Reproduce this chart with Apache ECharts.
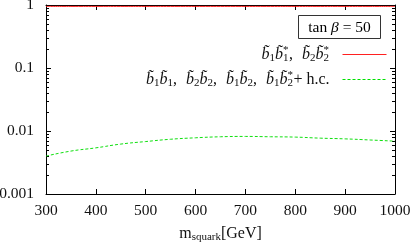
<!DOCTYPE html>
<html><head><meta charset="utf-8">
<script src="https://cdn.jsdelivr.net/npm/echarts@6/dist/echarts.min.js"></script>
<style>html,body{margin:0;padding:0;background:#fff}#c{width:415px;height:244px}</style>
</head><body><div id="c"></div>
<script>
const xValues = [300, 350, 400, 450, 500, 550, 600, 650, 700, 750, 800, 850, 900, 950, 1000];
const redValues = [0.95, 0.95, 0.95, 0.95, 0.95, 0.95, 0.95, 0.95, 0.95, 0.95, 0.95, 0.95, 0.95, 0.95, 0.95];
const greenValues = [0.0040, 0.0048, 0.0054, 0.0062, 0.0068, 0.0074, 0.0078, 0.0081, 0.0082, 0.0081, 0.0080, 0.0077, 0.0075, 0.0072, 0.0069];
const yTickLabels = {0.001: '0.001', 0.01: '0.01', 0.1: '0.1', 1: '1'};
const minorTickValues = [0.002, 0.003, 0.004, 0.005, 0.006, 0.007, 0.008, 0.009,
  0.02, 0.03, 0.04, 0.05, 0.06, 0.07, 0.08, 0.09,
  0.2, 0.3, 0.4, 0.5, 0.6, 0.7, 0.8, 0.9];
const redName = 'b1b1*, b2b2*';
const greenName = 'b1b1, b2b2, b1b2, b1b2* + h.c.';

const FF = 'Liberation Serif';
const B = '{i|b\u0303}';
function bb(a, b, star) {
  return B + '{s|' + a + '}' + B + (star ? '{sw|' + b + '}{p|*}' : '{s|' + b + '}');
}
const legendText = {};
legendText[redName] = bb(1, 1, true) + '{c|,}' + bb(2, 2, true) + '{g| }';
legendText[greenName] = bb(1, 1) + '{c|,}' + bb(2, 2) + '{c|,}' + bb(1, 2) + '{c|,}' + bb(1, 2, true) + '{n|+ h.c.}{g| }';

const TC = '#111';
const rich = {
  i: {fontFamily: FF, fontSize: 16, fontStyle: 'italic', lineHeight: 18, color: TC, align: 'left'},
  n: {fontFamily: FF, fontSize: 16, lineHeight: 18, color: TC, align: 'left'},
  c: {fontFamily: FF, fontSize: 16, lineHeight: 18, width: 13, color: TC, align: 'left'},
  s: {fontFamily: FF, fontSize: 11, lineHeight: 18, padding: [8, 0, 0, 0], color: TC, align: 'left'},
  sw: {fontFamily: FF, fontSize: 11, lineHeight: 18, padding: [8, 0, 0, 0], width: 0, color: TC, align: 'left'},
  p: {fontFamily: FF, fontSize: 11, lineHeight: 18, padding: [0, 0, 8, 0], width: 6, color: TC, align: 'left'},
  g: {fontFamily: FF, fontSize: 16, width: 8, lineHeight: 18, align: 'left'}
};

const chart = echarts.init(document.getElementById('c'), null, {renderer: 'canvas'});
const axisLineStyle = {color: '#000', width: 1};
chart.setOption({
  animation: false,
  backgroundColor: '#fff',
  grid: {left: 46, right: 20, top: 5, bottom: 50, containLabel: false, outerBoundsMode: 'none'},
  xAxis: [{
    type: 'value', min: 300, max: 1000, interval: 100, position: 'bottom',
    axisLine: {show: true, lineStyle: axisLineStyle},
    axisTick: {show: true, inside: true, length: 5, lineStyle: axisLineStyle},
    axisLabel: {fontFamily: FF, fontSize: 15.5, color: TC, margin: 9, formatter: v => String(v)},
    splitLine: {show: false},
    name: 'm{sub|squark}[GeV]', nameLocation: 'middle', nameGap: 31,
    nameTextStyle: {fontFamily: FF, fontSize: 16, color: TC, rich: {
      sub: {fontFamily: FF, fontSize: 11, padding: [7, 0, 0, 0], color: TC}
    }}
  }, {
    type: 'value', min: 300, max: 1000, interval: 100, position: 'top',
    axisLine: {show: true, lineStyle: axisLineStyle},
    axisTick: {show: true, inside: true, length: 5, lineStyle: axisLineStyle},
    axisLabel: {show: false}, splitLine: {show: false}
  }],
  yAxis: [{
    type: 'log', min: 0.001, max: 1, logBase: 10, position: 'left',
    axisLine: {show: true, lineStyle: axisLineStyle},
    axisTick: {show: true, inside: true, length: 5, lineStyle: axisLineStyle},
    minorTick: {show: false},
    axisLabel: {fontFamily: FF, fontSize: 15.5, color: TC, margin: 12,
      formatter: v => { const k = Object.keys(yTickLabels).find(t => Math.abs(Math.log10(+t) - Math.log10(v)) < 1e-6); return k ? yTickLabels[k] : ''; }},
    splitLine: {show: false}
  }, {
    type: 'log', min: 0.001, max: 1, logBase: 10, position: 'right',
    axisLine: {show: true, lineStyle: axisLineStyle},
    axisTick: {show: true, inside: true, length: 5, lineStyle: axisLineStyle},
    minorTick: {show: false},
    axisLabel: {show: false}, splitLine: {show: false}
  }],
  legend: {
    orient: 'vertical', right: 23, top: 40, align: 'right',
    itemWidth: 44, itemHeight: 18, itemGap: 6,
    data: [
      {name: redName, itemStyle: {opacity: 0}, lineStyle: {color: '#ff2020', width: 1, type: 'solid'}},
      {name: greenName, itemStyle: {opacity: 0}, lineStyle: {color: '#00e000', width: 1, type: [3, 2]}}
    ],
    formatter: name => legendText[name],
    textStyle: {rich: rich, fontFamily: FF, fontSize: 16, color: TC},
    selectedMode: false
  },
  graphic: [{
    type: 'group', left: 298, top: 15,
    children: [
      {type: 'rect', shape: {x: 0, y: 0, width: 82, height: 23}, style: {fill: '#fff', stroke: '#333', lineWidth: 1}},
      {type: 'text', x: 41, y: 12, style: {
        text: '{n|tan }{i|\u03B2}{n| = 50}', align: 'center', verticalAlign: 'middle',
        rich: {n: {fontFamily: FF, fontSize: 15.5, color: TC}, i: {fontFamily: FF, fontSize: 15.5, fontStyle: 'italic', color: TC}}
      }}
    ]
  }],
  series: [{
    name: redName, type: 'line', xAxisIndex: 0, yAxisIndex: 0,
    data: xValues.map((x, k) => [x, redValues[k]]),
    showSymbol: false, symbol: 'none', smooth: true,
    lineStyle: {color: '#ff2020', width: 1}, itemStyle: {color: '#ff2020'}
  }, {
    name: greenName, type: 'line', xAxisIndex: 0, yAxisIndex: 0,
    data: xValues.map((x, k) => [x, greenValues[k]]),
    showSymbol: false, symbol: 'none', smooth: true,
    lineStyle: {color: '#10e010', width: 1, type: [3, 2]}, itemStyle: {color: '#10e010'}
  }, {
    name: 'minorTicks', type: 'custom', xAxisIndex: 0, yAxisIndex: 0, silent: true, clip: false,
    data: minorTickValues.map(v => [300, v]),
    renderItem: (params, api) => {
      const v = api.value(1);
      const l = api.coord([300, v]);
      const r = api.coord([1000, v]);
      const y = Math.round(l[1]) + 0.5;
      return {type: 'group', children: [
        {type: 'line', shape: {x1: l[0], y1: y, x2: l[0] + 3, y2: y}, style: {stroke: '#000', lineWidth: 1}},
        {type: 'line', shape: {x1: r[0], y1: y, x2: r[0] - 3, y2: y}, style: {stroke: '#000', lineWidth: 1}}
      ]};
    }
  }]
});
</script></body></html>
